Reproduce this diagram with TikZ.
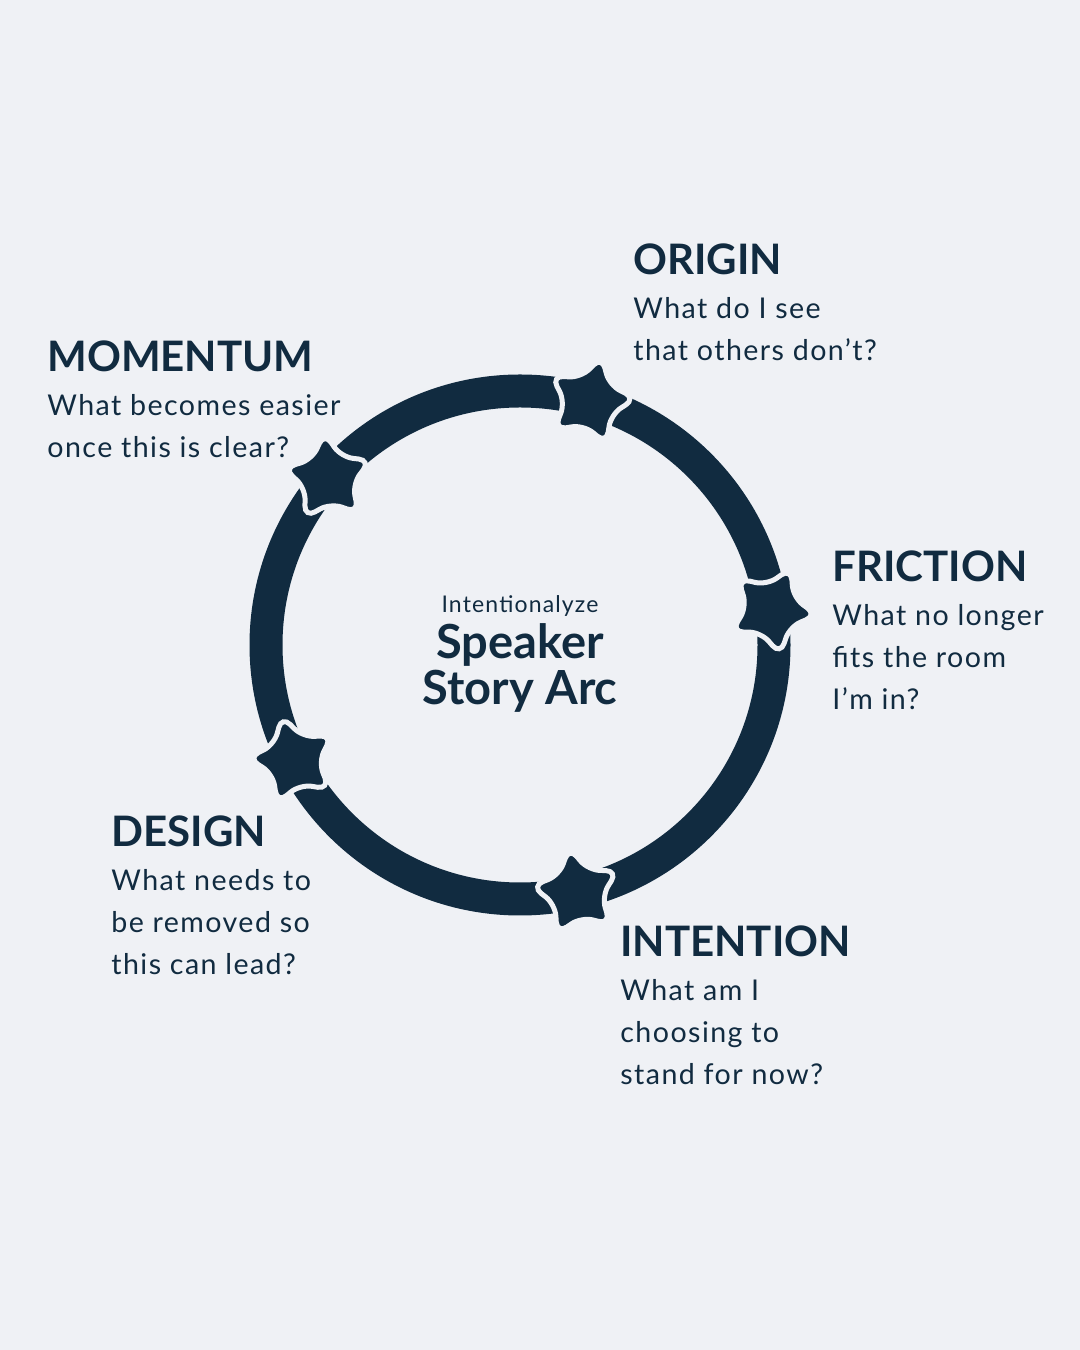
\documentclass[tikz,border=0pt]{standalone}
\usepackage{fontspec}
\setmainfont{Lato}
\newfontfamily\askfont[LetterSpace=5]{Lato}
\usetikzlibrary{positioning,shapes.geometric,calc}
\definecolor{navy}{HTML}{112B40}
\definecolor{paper}{HTML}{EFF1F5}
\tikzset{
  head/.style={font=\fontsize{21}{26}\selectfont\bfseries, text=navy, inner sep=0pt, anchor=base west},
  ask/.style={font=\askfont\fontsize{14.3}{21}\selectfont, text=navy, inner sep=0pt, align=left},
}

\begin{document}
\begin{tikzpicture}[
  x=0.5pt,y=0.5pt,
  starmark/.style={star, star points=5, star point ratio=1.85, minimum size=46pt, inner sep=0pt,
    fill=navy, draw=paper, line width=2.5pt, rounded corners=6pt},
  ring/.style={draw=navy, line width=16.5pt}
]
\fill[paper] (0,0) rectangle (1080,1350);
\useasboundingbox (0,0) rectangle (1080,1350);

\coordinate (c) at (520,705);
\draw[ring] (c) circle (254);

\node[starmark,rotate=-15] (s1) at ($(c)+(74:254)$) {};
\node[starmark,rotate=-25] (s2) at ($(c)+(8:254)$) {};
\node[starmark,rotate=10] (s3) at ($(c)+(-77:254)$) {};
\node[starmark,rotate=15] (s4) at ($(c)+(207:254)$) {};
\node[starmark,rotate=5] (s5) at ($(c)+(139:254)$) {};

\node[ask, font=\askfont\fontsize{11.5}{14}\selectfont] (brand) at (520,744) {Intentionalyze};
\node[text=navy, inner sep=0pt, align=center, font=\fontsize{23.5}{23}\selectfont\bfseries] (title) at (520,682) {Speaker\\Story Arc};

\node[head] (origin) at (633,1075) {ORIGIN};
\node[ask,below right=11pt and 0pt of origin.base west] (originq) {What do I see\\that others don’t?};

\node[head] (momentum) at (47,978) {MOMENTUM};
\node[ask,below right=11pt and 0pt of momentum.base west] (momentumq) {What becomes easier\\once this is clear?};

\node[head] (friction) at (832,768) {FRICTION};
\node[ask,below right=11pt and 0pt of friction.base west] (frictionq) {What no longer\\fits the room\\I’m in?};

\node[head] (design) at (111,503) {DESIGN};
\node[ask,below right=11pt and 0pt of design.base west] (designq) {What needs to\\be removed so\\this can lead?};

\node[head] (intention) at (620,393) {INTENTION};
\node[ask,below right=11pt and 0pt of intention.base west] (intentionq) {What am I\\choosing to\\stand for now?};

\end{tikzpicture}
\end{document}
